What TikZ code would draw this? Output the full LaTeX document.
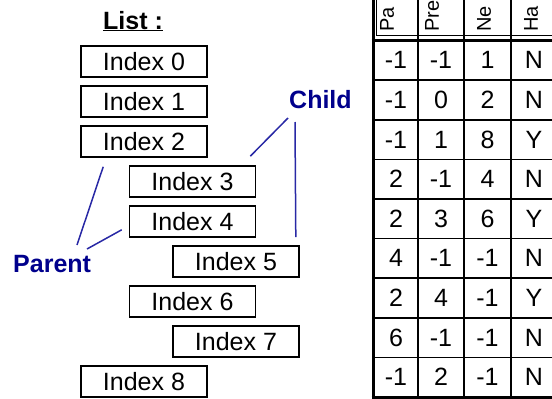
\documentclass[tikz,border=0pt]{standalone}
\usepackage{fontspec}
\setmainfont{Liberation Sans}
\definecolor{navyink}{RGB}{0,0,140}
\definecolor{navyline}{RGB}{40,40,165}
\begin{document}
\begin{tikzpicture}[x=1pt,y=-1pt,
  idxbox/.style={draw=black, line width=1.6pt, rectangle, minimum width=126pt,
    minimum height=31pt, inner sep=0pt, font=\fontsize{25}{30}\selectfont},
  lbl/.style={text=navyink, inner sep=0pt, font=\bfseries\fontsize{25}{30}\selectfont},
  link/.style={draw=navyline, line width=1.5pt},
  cell/.style={inner sep=0pt, font=\fontsize{25}{30}\selectfont},
  hdr/.style={rotate=90, anchor=west, inner sep=0pt, font=\fontsize{20}{24}\selectfont},
  thickrule/.style={line width=3pt},
  midrule/.style={line width=2.5pt},
  thinrule/.style={line width=1.6pt}]
\useasboundingbox (0,0) rectangle (552,399);
\clip (0,0) rectangle (552,399);

% list title
\node[inner sep=0pt, anchor=base west, font=\bfseries\fontsize{25}{30}\selectfont] (title) at (103,29) {\underline{List :}};

% list entries
\node[idxbox] (i0) at (144,61.5) {Index 0};
\node[idxbox] (i1) at (144,101.5) {Index 1};
\node[idxbox] (i2) at (144,141.5) {Index 2};
\node[idxbox] (i3) at (192.5,181.5) {Index 3};
\node[idxbox] (i4) at (192.5,221.5) {Index 4};
\node[idxbox] (i5) at (236,261.5) {Index 5};
\node[idxbox] (i6) at (192.5,301.5) {Index 6};
\node[idxbox] (i7) at (236,341.5) {Index 7};
\node[idxbox] (i8) at (144,381.5) {Index 8};

% labels and their pointers
\node[lbl, anchor=base west] (child) at (289,108) {Child};
\node[lbl, anchor=base west] (parent) at (13,272) {Parent};
\draw[link] ([shift={(-1,10)}]child.base west) -- ([shift={(-6,-9)}]i3.north east);
\draw[link] ([shift={(6,14)}]child.base west) -- ([shift={(-4,-8)}]i5.north east);
\draw[link] ([shift={(64,-27)}]parent.base west) -- ([shift={(23,9)}]i2.south west);
\draw[link] ([shift={(74,-23)}]parent.base west) -- ([shift={(-7,-8)}]i4.south west);

% table header (column titles run upwards and leave the page at the top)
\node[hdr] (h1) at (387,32) {Pa};
\node[hdr] (h2) at (432,32) {Pre};
\node[hdr] (h3) at (484,32) {Ne};
\node[hdr] (h4) at (531,32) {Ha};

% table grid
\draw[line width=0.8pt] (376,0) -- (376,35.5) -- (552,35.5);
\foreach \x in {418,464,511} {
  \draw[midrule] (\x,0) -- (\x,40.5);
  \draw[thinrule] (\x,40.5) -- (\x,397);
}
\foreach \r in {1,...,8} {
  \draw[thinrule] (373,{40.5+39.6*\r}) -- (552,{40.5+39.6*\r});
}
\draw[midrule] (371.5,40.5) -- (552,40.5);
\draw[thickrule] (373,0) -- (373,398.5);
\draw[thickrule] (371.5,397) -- (552,397);

% table cells
\foreach \a/\b/\c/\d [count=\r] in {-1/-1/1/N, -1/0/2/N, -1/1/8/Y, 2/-1/4/N, 2/3/6/Y,
    4/-1/-1/N, 2/4/-1/Y, 6/-1/-1/N, -1/2/-1/N} {
  \node[cell] (c\r-1) at (396,{60.3+39.6*(\r-1)}) {\a};
  \node[cell] (c\r-2) at (441,{60.3+39.6*(\r-1)}) {\b};
  \node[cell] (c\r-3) at (487.5,{60.3+39.6*(\r-1)}) {\c};
  \node[cell] (c\r-4) at (534,{60.3+39.6*(\r-1)}) {\d};
}
\end{tikzpicture}
\end{document}
